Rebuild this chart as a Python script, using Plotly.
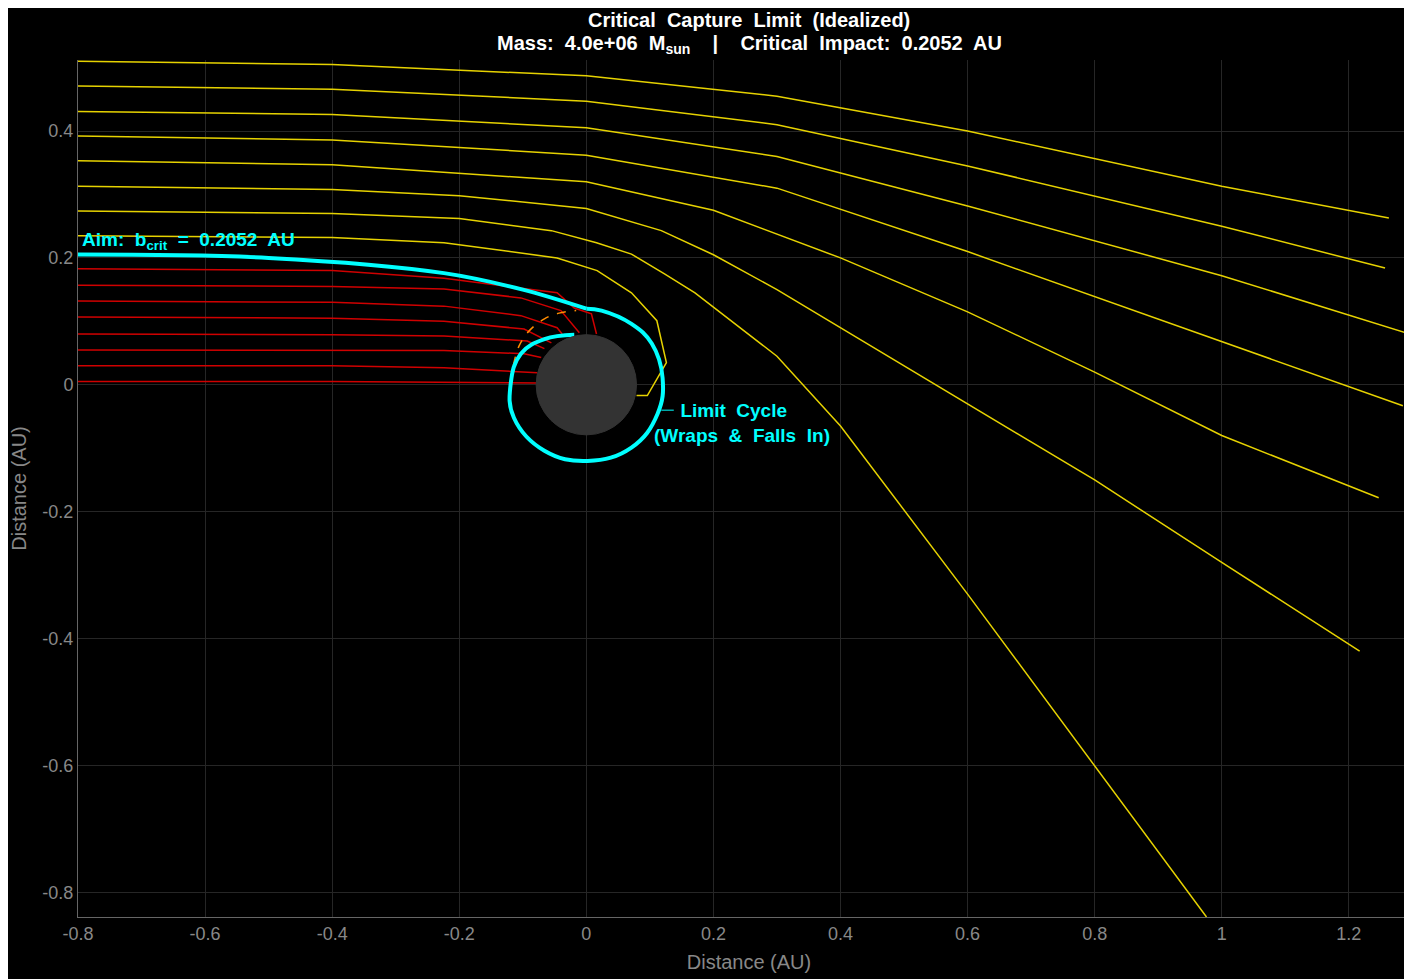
import plotly.graph_objects as go

# Yellow (escaping) trajectories
Y1x=[-0.8,-0.4,0,0.3,0.6,1.0,1.263]; Y1y=[0.510,0.505,0.487,0.455,0.40,0.313,0.263]
Y2x=[-0.8,-0.4,0,0.3,0.6,1.0,1.257]; Y2y=[0.471,0.466,0.447,0.41,0.345,0.25,0.184]
Y3x=[-0.8,-0.4,0,0.3,0.6,1.0,1.306]; Y3y=[0.431,0.426,0.405,0.36,0.282,0.172,0.077]
Y4x=[-0.8,-0.4,0,0.3,0.6,1.0,1.285]; Y4y=[0.392,0.386,0.362,0.31,0.21,0.068,-0.033]
Y5x=[-0.8,-0.4,0,0.2,0.4,0.6,0.8,1.0,1.247]; Y5y=[0.353,0.347,0.32,0.275,0.2,0.115,0.02,-0.08,-0.178]
Y6x=[-0.8,-0.4,-0.2,0,0.118,0.2,0.3,0.4,0.6,0.8,1.0,1.217]
Y6y=[0.313,0.308,0.298,0.278,0.243,0.205,0.15,0.09,-0.03,-0.15,-0.28,-0.42]
Y7x=[-0.8,-0.4,-0.2,-0.055,0.016,0.071,0.123,0.171,0.3,0.4,0.6,0.8,0.976]
Y7y=[0.274,0.27,0.262,0.243,0.224,0.206,0.175,0.145,0.045,-0.065,-0.33,-0.6,-0.839]
Y8x=[-0.8,-0.4,-0.224,-0.046,0.017,0.071,0.111,0.126,0.096,0.079]
Y8y=[0.235,0.232,0.224,0.2,0.18,0.145,0.101,0.035,-0.017,-0.017]
yellow=[(Y1x,Y1y),(Y2x,Y2y),(Y3x,Y3y),(Y4x,Y4y),(Y5x,Y5y),(Y6x,Y6y),(Y7x,Y7y),(Y8x,Y8y)]

# Red (captured) trajectories
R1x=[-0.8,-0.4,-0.224,-0.046,-0.019,0.008,0.016]; R1y=[0.183,0.18,0.168,0.145,0.121,0.112,0.08]
R2x=[-0.8,-0.4,-0.224,-0.103,-0.04,-0.011]; R2y=[0.157,0.155,0.151,0.137,0.117,0.082]
R3x=[-0.8,-0.4,-0.224,-0.103,-0.046,-0.038]; R3y=[0.132,0.13,0.124,0.109,0.09,0.08]
R4x=[-0.8,-0.4,-0.224,-0.098,-0.055]; R4y=[0.107,0.105,0.1,0.088,0.066]
R5x=[-0.8,-0.4,-0.224,-0.093,-0.066]; R5y=[0.080,0.079,0.077,0.069,0.057]
R6x=[-0.8,-0.4,-0.224,-0.098,-0.071]; R6y=[0.055,0.055,0.054,0.049,0.043]
R7x=[-0.8,-0.4,-0.224,-0.077]; R7y=[0.030,0.03,0.027,0.019]
R8x=[-0.8,-0.4,-0.077]; R8y=[0.005,0.005,0.003]
red=[(R1x,R1y),(R2x,R2y),(R3x,R3y),(R4x,R4y),(R5x,R5y),(R6x,R6y),(R7x,R7y),(R8x,R8y)]

# Critical (cyan) trajectory: approach, then loop
CAx=[-0.8,-0.5,-0.224,-0.1,0]
CAy=[0.2052,0.2,0.176,0.15,0.12]
CLx=[0,0.024,0.071,0.103,0.12,0.112,0.071,0.002,-0.066,-0.114,-0.119,-0.103,-0.066,-0.019]
CLy=[0.12,0.117,0.096,0.065,0.011,-0.046,-0.099,-0.12,-0.104,-0.052,0.002,0.049,0.072,0.079]

# Orange dashed arc
Ox=[-0.115,-0.106,-0.09,-0.066,-0.043,-0.016]
Oy=[0.03,0.061,0.085,0.104,0.113,0.117]

BH_R=0.079

fig=go.Figure()
for x,y in red:
    fig.add_trace(go.Scatter(x=x,y=y,mode="lines",line=dict(color="#d00000",width=1.5),hoverinfo="skip"))
for x,y in yellow:
    fig.add_trace(go.Scatter(x=x,y=y,mode="lines",line=dict(color="#e6d200",width=1.5),hoverinfo="skip"))
fig.add_trace(go.Scatter(x=Ox,y=Oy,mode="lines",line=dict(color="#ff8c00",width=1.5,dash="dash",shape="spline"),hoverinfo="skip"))
fig.add_trace(go.Scatter(x=CAx,y=CAy,mode="lines",line=dict(color="#00ffff",width=4,shape="spline"),hoverinfo="skip"))
fig.add_trace(go.Scatter(x=CLx,y=CLy,mode="lines",line=dict(color="#00ffff",width=4,shape="spline",smoothing=1.2),hoverinfo="skip"))
fig.add_shape(type="circle",x0=-BH_R,x1=BH_R,y0=-BH_R,y1=BH_R,fillcolor="#333333",line=dict(color="#333333",width=1),layer="above")

fig.add_annotation(x=-0.797,y=0.226,xanchor="left",yanchor="middle",showarrow=False,
    text="<b>Aim:  b<sub>crit</sub>  =  0.2052  AU</b>",font=dict(color="#00ffff",size=19,family="Liberation Sans"))
fig.add_annotation(x=0.118,y=-0.04,ax=0.14,ay=-0.04,axref="x",ayref="y",showarrow=True,arrowhead=0,
    arrowcolor="#00ffff",arrowwidth=1,text="")
fig.add_annotation(x=0.104,y=-0.06,xanchor="left",yanchor="middle",showarrow=False,align="left",
    text="<b>&nbsp;&nbsp;&nbsp;&nbsp;&nbsp;Limit  Cycle<br>(Wraps  &  Falls  In)</b>",font=dict(color="#00ffff",size=19,family="Liberation Sans"))
fig.add_annotation(x=0.5,y=1.047,xref="paper",yref="paper",showarrow=False,yanchor="middle",
    text="<b>Critical  Capture  Limit  (Idealized)</b>",font=dict(color="white",size=20))
fig.add_annotation(x=0.5,y=1.018,xref="paper",yref="paper",showarrow=False,yanchor="middle",
    text="<b>Mass:  4.0e+06  M<sub>sun</sub>    |    Critical  Impact:  0.2052  AU</b>",font=dict(color="white",size=20))

ax=dict(showgrid=True,gridcolor="#262626",zeroline=False,showline=True,linecolor="#666",
        tickfont=dict(color="#888",size=18),title_font=dict(color="#888",size=20),ticks="")
fig.update_layout(
    width=1412,height=979,paper_bgcolor="black",plot_bgcolor="black",showlegend=False,
    margin=dict(l=68,r=0,t=52,b=70),
    font=dict(family="Liberation Sans"),
    xaxis=dict(range=[-0.8,1.312],tickvals=[-0.8,-0.6,-0.4,-0.2,0,0.2,0.4,0.6,0.8,1,1.2],
               ticktext=["-0.8","-0.6","-0.4","-0.2","0","0.2","0.4","0.6","0.8","1","1.2"],
               title=dict(text="Distance (AU)",standoff=12),**ax),
    yaxis=dict(range=[-0.839,0.512],tickvals=[-0.8,-0.6,-0.4,-0.2,0,0.2,0.4],
               ticktext=["-0.8","-0.6","-0.4","-0.2","0","0.2","0.4"],
               title=dict(text="Distance (AU)",standoff=20),**ax),
)
fig.write_html("out.html")
